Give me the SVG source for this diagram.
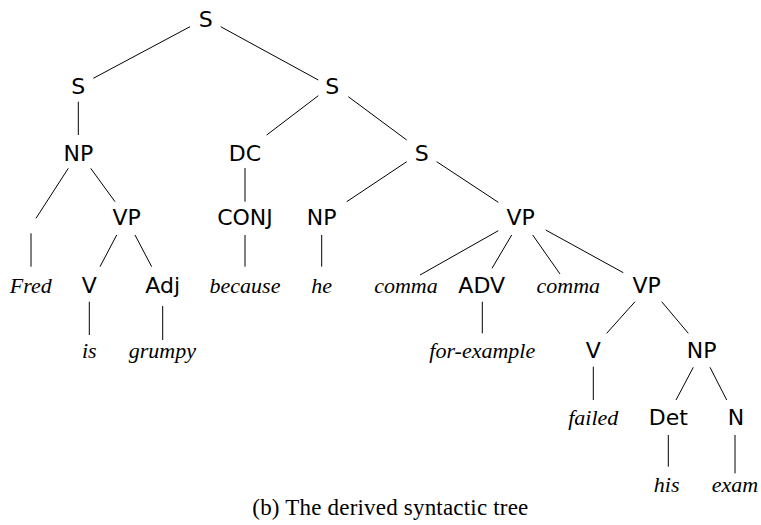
<svg xmlns="http://www.w3.org/2000/svg" width="761" height="525" viewBox="0 0 761 525">
<style>
.n{font-family:"DejaVu Sans",sans-serif;font-size:22px;fill:#000;text-anchor:middle}
.w{font-family:"Liberation Serif",serif;font-style:italic;font-size:22px;fill:#000;text-anchor:middle}
.c{font-family:"Liberation Serif",serif;font-size:23px;fill:#000}
#edges line{stroke:#000;stroke-width:1}
</style>
<rect width="761" height="525" fill="#fff"/>
<g id="edges">
<line x1="190" y1="26.7" x2="93.3" y2="78.3"/>
<line x1="220.7" y1="26.7" x2="318.3" y2="80"/>
<line x1="78.3" y1="101.7" x2="78.3" y2="135"/>
<line x1="318.3" y1="95.7" x2="266.7" y2="135"/>
<line x1="348.3" y1="96.7" x2="406.7" y2="140"/>
<line x1="68.3" y1="168.3" x2="36" y2="218.3"/>
<line x1="90.7" y1="168.3" x2="115" y2="201.7"/>
<line x1="245" y1="168" x2="245" y2="201.7"/>
<line x1="406.7" y1="161.7" x2="346.7" y2="201.7"/>
<line x1="436.7" y1="161.7" x2="498.3" y2="202.3"/>
<line x1="31" y1="233.3" x2="31" y2="266.7"/>
<line x1="116.7" y1="235" x2="100" y2="266.7"/>
<line x1="135" y1="235" x2="151.7" y2="266.7"/>
<line x1="245" y1="235" x2="245" y2="266.7"/>
<line x1="321.7" y1="235" x2="321.7" y2="266.7"/>
<line x1="498.3" y1="230.7" x2="420" y2="275"/>
<line x1="511.7" y1="235" x2="492" y2="268.3"/>
<line x1="532.7" y1="235" x2="560" y2="274"/>
<line x1="545.7" y1="230" x2="623.3" y2="272.7"/>
<line x1="89.3" y1="301.7" x2="89.3" y2="335"/>
<line x1="162.7" y1="306" x2="162.7" y2="340"/>
<line x1="482.3" y1="301.7" x2="482.3" y2="333.3"/>
<line x1="635" y1="301.7" x2="606.7" y2="333.3"/>
<line x1="661.7" y1="301.7" x2="688.3" y2="333.3"/>
<line x1="593.3" y1="366.7" x2="593.3" y2="400"/>
<line x1="693.3" y1="367.3" x2="676" y2="400"/>
<line x1="710" y1="367.3" x2="726.7" y2="400"/>
<line x1="668.3" y1="435" x2="668.3" y2="466.7"/>
<line x1="735" y1="435" x2="735" y2="473.3"/>
</g>
<g id="n-root"><text class="n" x="205.7" y="26.7">S</text></g>
<g id="n-s1"><text class="n" x="78.3" y="94">S</text></g>
<g id="n-s2"><text class="n" x="332.3" y="94">S</text></g>
<g id="n-np1"><text class="n" x="78.3" y="160.7">NP</text></g>
<g id="n-dc"><text class="n" x="245" y="160.7">DC</text></g>
<g id="n-s3"><text class="n" x="421.7" y="160.7">S</text></g>
<g id="n-vp1"><text class="n" x="126.7" y="225">VP</text></g>
<g id="n-conj"><text class="n" x="245" y="225">CONJ</text></g>
<g id="n-np2"><text class="n" x="321.7" y="225">NP</text></g>
<g id="n-vp2"><text class="n" x="520.7" y="225">VP</text></g>
<g id="n-fred"><text class="w" x="30.7" y="293.3">Fred</text></g>
<g id="n-v1"><text class="n" x="89.3" y="293.3">V</text></g>
<g id="n-adj"><text class="n" x="162.7" y="293.3">Adj</text></g>
<g id="n-because"><text class="w" x="245" y="293.3">because</text></g>
<g id="n-he"><text class="w" x="321.7" y="293.3">he</text></g>
<g id="n-comma1"><text class="w" x="406" y="293.3">comma</text></g>
<g id="n-adv"><text class="n" x="481.7" y="293.3">ADV</text></g>
<g id="n-comma2"><text class="w" x="568.3" y="293.3">comma</text></g>
<g id="n-vp3"><text class="n" x="646.7" y="293.3">VP</text></g>
<g id="n-is"><text class="w" x="89.3" y="358.3">is</text></g>
<g id="n-grumpy"><text class="w" x="162.3" y="358.3">grumpy</text></g>
<g id="n-forex"><text class="w" x="482.3" y="358.3">for-example</text></g>
<g id="n-v2"><text class="n" x="593.3" y="358.3">V</text></g>
<g id="n-np3"><text class="n" x="701.7" y="358.3">NP</text></g>
<g id="n-failed"><text class="w" x="593.3" y="425">failed</text></g>
<g id="n-det"><text class="n" x="668.3" y="425">Det</text></g>
<g id="n-n"><text class="n" x="736" y="425">N</text></g>
<g id="n-his"><text class="w" x="666.7" y="491.7">his</text></g>
<g id="n-exam"><text class="w" x="735" y="491.7">exam</text></g>
<text class="c" x="252.3" y="515" textLength="276" lengthAdjust="spacing">(b) The derived syntactic tree</text>
</svg>
